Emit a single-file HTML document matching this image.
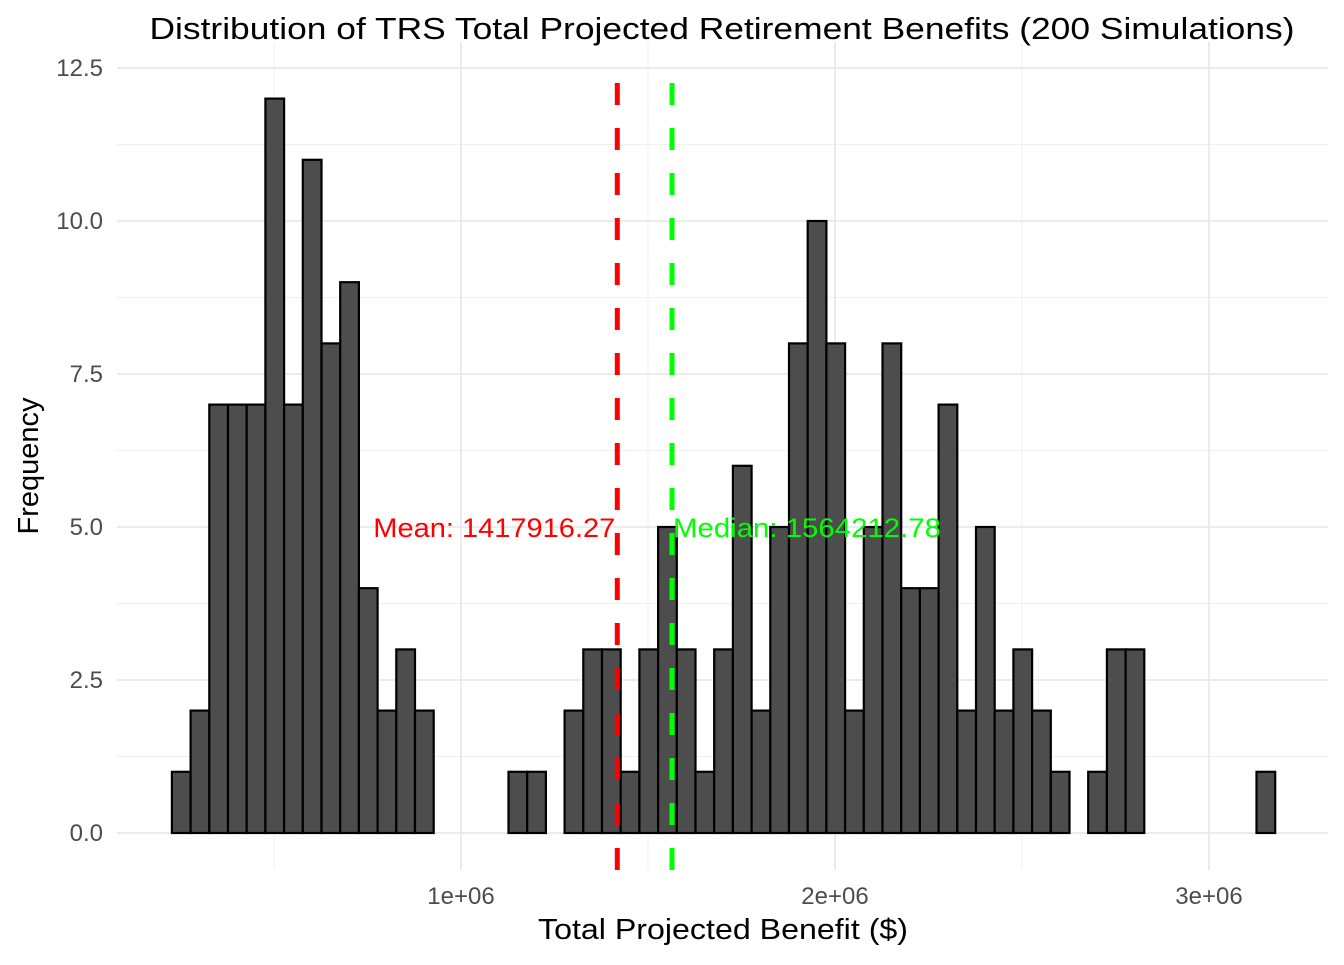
<!DOCTYPE html>
<html><head><meta charset="utf-8"><style>
body{margin:0;background:#fff;font-family:"Liberation Sans",sans-serif}
</style></head><body>
<svg id="chart" width="1344" height="960" xmlns="http://www.w3.org/2000/svg">
<g id="grid"></g><g id="bars"></g><g id="lines"></g><g id="axes"></g>
<text x="722" y="39" text-anchor="middle" font-size="31" textLength="1145" lengthAdjust="spacingAndGlyphs" fill="#000">Distribution of TRS Total Projected Retirement Benefits (200 Simulations)</text>
<text x="723" y="939" text-anchor="middle" font-size="29" textLength="370" lengthAdjust="spacingAndGlyphs" fill="#000">Total Projected Benefit ($)</text>
<text transform="translate(38,466) rotate(-90)" text-anchor="middle" font-size="29" fill="#000">Frequency</text>
</svg>
<script>
const binStart = 227000;
const binWidth = 50000;
const counts = [1,2,7,7,7,12,7,11,8,9,4,2,3,2,0,0,0,0,1,1,0,2,3,3,1,3,5,3,1,3,6,2,5,8,10,8,2,5,8,4,4,7,2,5,2,3,2,1,0,1,3,3,0,0,0,0,0,0,1];
const meanVal = 1417916.27;
const medianVal = 1564212.78;
const xTicks = [1000000,2000000,3000000];
const xTickLabels = ["1e+06","2e+06","3e+06"];
const xMinor = [500000,1500000,2500000];
const yTicks = [0,2.5,5,7.5,10,12.5];
const yTickLabels = ["0.0","2.5","5.0","7.5","10.0","12.5"];
const yMinor = [1.25,3.75,6.25,8.75,11.25];

const X = v => 461 + (v-1000000)/1000000*374;
const Y = v => 833 - v*61.2;
const ns = "http://www.w3.org/2000/svg";
function mk(parent,tag,attrs){const e=document.createElementNS(ns,tag);for(const k in attrs)e.setAttribute(k,attrs[k]);document.getElementById(parent).appendChild(e);return e;}
const L=117,R=1328,T=42,B=870;
xMinor.forEach(v=>{const e=mk('grid','line',{x1:X(v),x2:X(v),y1:T,y2:B,stroke:'#f0f0f0','stroke-width':1});

});
yMinor.forEach(v=>{const e=mk('grid','line',{x1:L,x2:R,y1:Y(v),y2:Y(v),stroke:'#f0f0f0','stroke-width':1});

});
xTicks.forEach((v,i)=>{const e=mk('grid','line',{x1:X(v),x2:X(v),y1:T,y2:B,stroke:'#e6e6e6','stroke-width':1.5});


const t=mk('axes','text',{x:X(v),y:904,'text-anchor':'middle','font-size':24,fill:'#4d4d4d'});t.textContent=xTickLabels[i];

});
yTicks.forEach((v,i)=>{const e=mk('grid','line',{x1:L,x2:R,y1:Y(v),y2:Y(v),stroke:'#e6e6e6','stroke-width':1.5});


const t=mk('axes','text',{x:103,y:Y(v)+8,'text-anchor':'end','font-size':24,fill:'#4d4d4d'});t.textContent=yTickLabels[i];

});
counts.forEach((c,i)=>{const x0=X(binStart+i*binWidth),x1=X(binStart+(i+1)*binWidth);
const r=mk('bars','rect',{x:x0,y:Y(c),width:x1-x0,height:Y(0)-Y(c),fill:'#4d4d4d',stroke:'#000','stroke-width':2.2});

});
[[meanVal,'#ff0000','mean-line'],[medianVal,'#00ff00','median-line']].forEach(([v,c,n])=>{
const e=mk('lines','line',{x1:X(v),x2:X(v),y1:B,y2:70,stroke:c,'stroke-width':5,'stroke-dasharray':'22 23'});

});
const mt=mk('lines','text',{x:X(meanVal)-2,y:Y(5)+10,'text-anchor':'end','font-size':27,textLength:242,lengthAdjust:'spacingAndGlyphs',fill:'#ff0000'});mt.textContent='Mean: '+meanVal.toFixed(2);


const md=mk('lines','text',{x:X(medianVal)+1,y:Y(5)+10,'text-anchor':'start','font-size':27,textLength:268,lengthAdjust:'spacingAndGlyphs',fill:'#00ff00'});md.textContent='Median: '+medianVal.toFixed(2);


</script>
</body></html>
